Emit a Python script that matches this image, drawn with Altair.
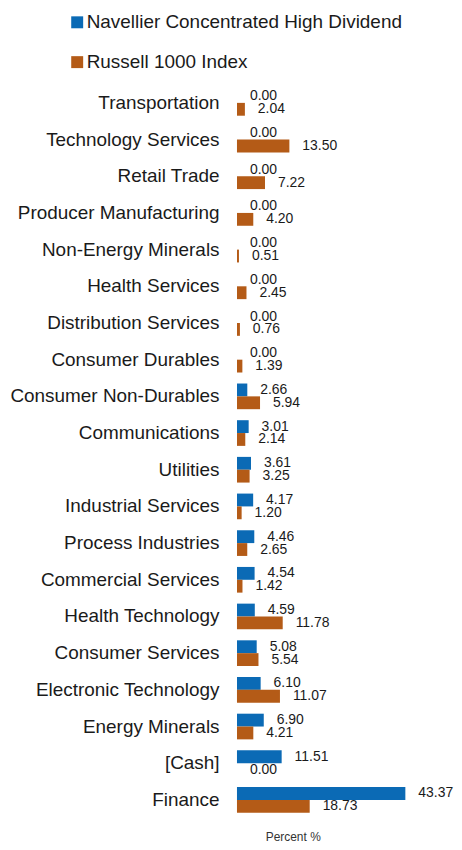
import altair as alt
import pandas as pd

categories = ["Transportation", "Technology Services", "Retail Trade", "Producer Manufacturing",
              "Non-Energy Minerals", "Health Services", "Distribution Services", "Consumer Durables",
              "Consumer Non-Durables", "Communications", "Utilities", "Industrial Services",
              "Process Industries", "Commercial Services", "Health Technology", "Consumer Services",
              "Electronic Technology", "Energy Minerals", "[Cash]", "Finance"]
navellier = [0.00, 0.00, 0.00, 0.00, 0.00, 0.00, 0.00, 0.00, 2.66, 3.01, 3.61, 4.17, 4.46, 4.54,
             4.59, 5.08, 6.10, 6.90, 11.51, 43.37]
russell = [2.04, 13.50, 7.22, 4.20, 0.51, 2.45, 0.76, 1.39, 5.94, 2.14, 3.25, 1.20, 2.65, 1.42,
           11.78, 5.54, 11.07, 4.21, 0.00, 18.73]
series = ["Navellier Concentrated High Dividend", "Russell 1000 Index"]
colors = ["#0B6AB5", "#B45B17"]

rows = []
for c, a, b in zip(categories, navellier, russell):
    rows.append({"Sector": c, "Series": series[0], "Value": a})
    rows.append({"Sector": c, "Series": series[1], "Value": b})
df = pd.DataFrame(rows)

FONT = "Liberation Sans"

y_enc = alt.Y("Sector:N", sort=categories,
              scale=alt.Scale(paddingInner=0.3, paddingOuter=0.15),
              axis=alt.Axis(title=None, ticks=False, domain=False, labelFontSize=19,
                            labelPadding=18, labelLimit=400, labelColor="#1a1a1a", labelFont=FONT))
x_enc = alt.X("Value:Q", scale=alt.Scale(domain=[0, 53.85], nice=False),
              axis=alt.Axis(title="Percent %", labels=False, ticks=False, domain=False, grid=False,
                            titleFontSize=12, titleFontWeight="normal", titleColor="#333",
                            titleFont=FONT, titleX=56, titleAlign="center", titlePadding=13))
yoff = alt.YOffset("Series:N", sort=series)

bars = alt.Chart(df).mark_bar().encode(
    x=x_enc, y=y_enc, yOffset=yoff,
    color=alt.Color("Series:N", sort=series,
                    scale=alt.Scale(domain=series, range=colors),
                    legend=alt.Legend(title=None, orient="none", legendX=-170, legendY=-72,
                                      symbolType="square", symbolSize=144, symbolStrokeWidth=0,
                                      labelFontSize=19, labelFont=FONT, labelColor="#1a1a1a",
                                      labelLimit=400, rowPadding=20, labelOffset=0)),
)

labels = alt.Chart(df).mark_text(align="left", baseline="middle", dx=13, fontSize=14,
                                 font=FONT, color="#1a1a1a").encode(
    x="Value:Q", y=alt.Y("Sector:N", sort=categories), yOffset=yoff,
    text=alt.Text("Value:Q", format=".2f"),
)

chart = (bars + labels).properties(
    width=210, height=737,
    padding={"left": 1, "top": 3, "right": 0, "bottom": 0},
).configure_view(stroke=None)

chart.save("out.html", embed_options={"renderer": "svg", "actions": False})
